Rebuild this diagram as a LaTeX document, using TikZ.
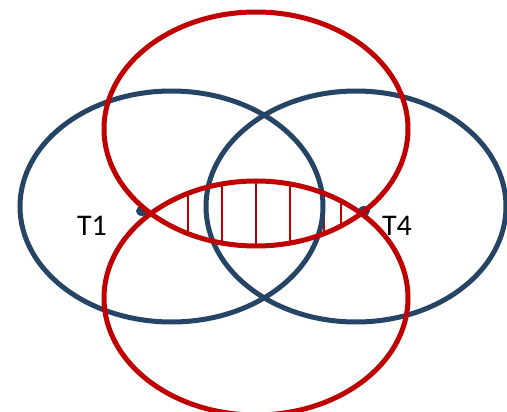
\documentclass[tikz,border=0pt]{standalone}
\usepackage{fontspec}
\setmainfont{Carlito}
\definecolor{dkblue}{HTML}{264466}
\definecolor{dkred}{HTML}{C00000}
\tikzset{
  blueell/.style={draw=dkblue, line width=5pt},
  redell/.style={draw=dkred, line width=5pt},
  hatchline/.style={draw=dkred, line width=1.5pt},
  dotmark/.style={fill=dkblue},
  lbl/.style={font=\fontsize{30}{36}\selectfont, inner sep=0pt, text=black}
}
\begin{document}
\begin{tikzpicture}[x=1pt,y=-1pt]
\useasboundingbox (0,0) rectangle (507,412);
% hatching in the lens between the two red ellipses
\begin{scope}
  \clip (256,129) ellipse [x radius=152pt, y radius=117pt];
  \clip (256,298) ellipse [x radius=152pt, y radius=117pt];
  \foreach \xx in {188,222,256,290,324,341} {
    \draw[hatchline] (\xx,170) -- (\xx,260);
  }
\end{scope}
% blue ellipses
\draw[blueell] (171.5,206.5) ellipse [x radius=151.5pt, y radius=115.5pt];
\draw[blueell] (356,206.5) ellipse [x radius=150pt, y radius=115.5pt];
% dots
\fill[dotmark] (142,211) ellipse [x radius=6pt, y radius=5pt];
\fill[dotmark] (364,211) ellipse [x radius=6pt, y radius=5pt];
% red ellipses
\draw[redell] (256,129) ellipse [x radius=152pt, y radius=117pt];
\draw[redell] (256,298) ellipse [x radius=152pt, y radius=117pt];
% labels
\node[lbl] (t1) at (92,226) {T1};
\node[lbl] (t4) at (397,226) {T4};
\end{tikzpicture}
\end{document}
